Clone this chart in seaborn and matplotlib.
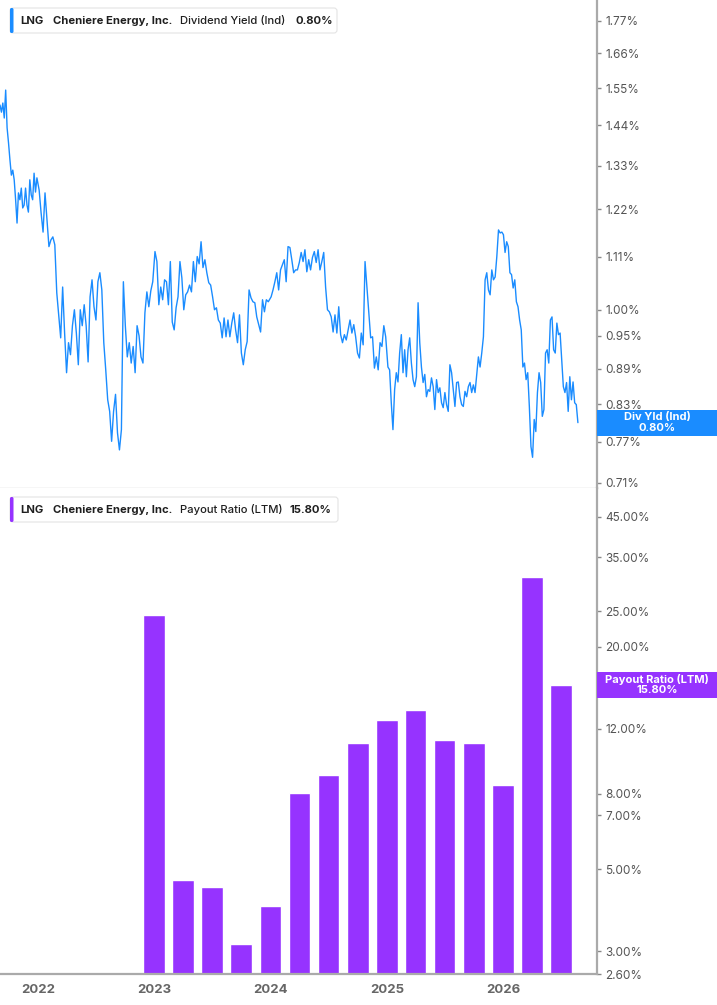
import numpy as np
import pandas as pd
import matplotlib
matplotlib.use("Agg")
import matplotlib.pyplot as plt
import matplotlib.dates as mdates
from matplotlib.patches import Rectangle, FancyBboxPatch
from matplotlib.transforms import IdentityTransform
from matplotlib.ticker import FixedLocator, FixedFormatter, NullLocator
import seaborn as sns

# Dividend yield (Ind), % - one list per calendar year
yld_2021 = [1.499, 1.478, 1.505, 1.461, 1.544, 1.433, 1.391, 1.345, 1.305, 1.318, 1.293, 1.243, 1.187, 1.260,
            1.243, 1.272, 1.223, 1.230, 1.272, 1.230, 1.213, 1.293, 1.255, 1.243, 1.310, 1.262, 1.298]
yld_2022 = [1.267, 1.211, 1.166, 1.260, 1.194, 1.133, 1.148, 1.155, 1.137, 1.034, 0.988, 0.946, 1.046, 0.955,
            0.883, 0.937, 0.915, 0.969, 1.000, 0.955, 0.897, 1.000, 0.969, 1.010, 0.969, 0.902, 1.026, 1.061,
            1.006, 0.980, 1.057, 1.076, 1.040, 0.937, 0.888, 0.837, 0.818, 0.771, 0.818, 0.846, 0.784, 0.758,
            0.789, 1.057, 0.969, 0.911, 0.937, 0.900, 0.930, 0.883, 0.969, 0.950, 0.911, 0.900, 0.994, 1.036,
            1.006, 1.038, 1.057]
yld_2023 = [1.122, 1.100, 1.010, 1.046, 1.020, 1.061, 1.057, 1.010, 1.100, 0.976, 0.961, 1.004, 1.026, 1.100,
            1.065, 1.000, 1.030, 1.036, 1.050, 1.036, 1.100, 1.057, 1.111, 1.095, 1.144, 1.087, 1.104, 1.076,
            1.055, 1.050, 1.026, 1.000, 1.004, 0.980, 0.974, 0.946, 0.984, 0.948, 0.980, 0.948, 0.974, 0.994,
            0.961, 0.937, 0.990, 0.918, 0.897, 0.924, 0.939, 1.040, 1.024, 1.016, 1.014, 0.986, 0.971, 0.957,
            1.020, 0.996, 1.020, 1.016]
yld_2024 = [1.026, 1.040, 1.057, 1.076, 1.040, 1.082, 1.093, 1.104, 1.057, 1.133, 1.131, 1.104, 1.076, 1.082,
            1.082, 1.098, 1.120, 1.100, 1.126, 1.078, 1.104, 1.082, 1.109, 1.122, 1.098, 1.126, 1.082, 1.100,
            1.120, 1.046, 1.000, 0.996, 0.986, 0.957, 0.990, 0.955, 1.006, 0.952, 0.937, 0.952, 0.942, 0.961,
            0.980, 0.955, 0.971, 0.948, 0.918, 0.909, 0.955, 0.933, 1.100, 1.046, 0.994, 0.946, 0.948, 0.891,
            0.911, 0.888, 0.937, 0.930, 0.969, 0.948]
yld_2025 = [0.893, 0.888, 0.832, 0.789, 0.854, 0.883, 0.867, 0.918, 0.952, 0.883, 0.924, 0.876, 0.924, 0.946,
            0.900, 0.871, 0.859, 0.876, 1.014, 0.937, 0.893, 0.866, 0.880, 0.842, 0.854, 0.851, 0.874, 0.859,
            0.821, 0.871, 0.849, 0.857, 0.832, 0.824, 0.849, 0.829, 0.818, 0.897, 0.883, 0.854, 0.826, 0.866,
            0.867, 0.842, 0.829, 0.826, 0.851, 0.842, 0.859, 0.866, 0.849, 0.862, 0.849, 0.880, 0.911, 0.893,
            0.918, 0.948, 1.061, 1.076, 1.040, 1.030, 1.082, 1.061, 1.067, 1.111, 1.171, 1.164, 1.166]
yld_2026 = [1.160, 1.120, 1.144, 1.133, 1.076, 1.072, 1.044, 1.061, 1.016, 1.006, 0.980, 0.961, 0.893, 0.900,
            0.871, 0.883, 0.826, 0.763, 0.747, 0.805, 0.786, 0.849, 0.883, 0.866, 0.810, 0.821, 0.918, 0.924,
            0.900, 0.980, 0.986, 0.924, 0.918, 0.974, 0.952, 0.955, 0.906, 0.859, 0.849, 0.866, 0.818, 0.876,
            0.837, 0.867, 0.832, 0.829, 0.800]
# first / last day covered by each yearly list
yld_spans = [("2021-09-03", "2021-12-28"), ("2022-01-04", "2022-12-27"), ("2023-01-03", "2023-12-25"),
             ("2024-01-03", "2024-12-28"), ("2025-01-04", "2025-12-28"), ("2026-01-02", "2026-08-24")]

# Payout ratio (LTM), %, quarterly bars
payout_quarters = ["2023-01-01", "2023-04-01", "2023-07-01", "2023-10-01",
                   "2024-01-01", "2024-04-01", "2024-07-01", "2024-10-01",
                   "2025-01-01", "2025-04-01", "2025-07-01", "2025-10-01",
                   "2026-01-01", "2026-04-01", "2026-07-01"]
payout_ratio = [24.4, 4.67, 4.47, 3.13, 3.97, 8.04, 8.99, 10.98, 12.67, 13.5, 11.19, 11.0, 8.45, 30.9, 15.8]

div_ticks = [1.77, 1.66, 1.55, 1.44, 1.33, 1.22, 1.11, 1.00, 0.95, 0.89, 0.83, 0.77, 0.71]
payout_ticks = [45, 35, 25, 20, 12, 8, 7, 5, 3, 2.6]
year_ticks = [2022, 2023, 2024, 2025, 2026]

last_yield = 0.80
last_payout = 15.80

BLUE = "#1a8cff"
PURPLE = "#9633ff"
W, H = 717, 1005

frames = []
for vals, (d0, d1) in zip([yld_2021, yld_2022, yld_2023, yld_2024, yld_2025, yld_2026], yld_spans):
    frames.append(pd.DataFrame({"date": pd.date_range(d0, d1, periods=len(vals)), "yield": vals}))
div = pd.concat(frames, ignore_index=True)

sns.set_style("white")
plt.rcParams["font.family"] = ["Inter", "DejaVu Sans"]

fig = plt.figure(figsize=(W / 100, H / 100), dpi=100)


def frac(x0, y0, x1, y1):
    return [x0 / W, 1 - y1 / H, (x1 - x0) / W, (y1 - y0) / H]


ax1 = fig.add_axes(frac(0, 0, 597, 488))
ax2 = fig.add_axes(frac(0, 488, 597, 974))

sns.lineplot(data=div, x="date", y="yield", ax=ax1, color=BLUE, linewidth=1.0)

xnum = mdates.date2num(pd.to_datetime(payout_quarters))
sns.barplot(x=xnum, y=payout_ratio, native_scale=True, width=0.76, color=PURPLE,
            saturation=1, orient="x", ax=ax2)

xlim = mdates.date2num(pd.to_datetime(["2021-09-03", "2026-10-23"]))
for ax in (ax1, ax2):
    ax.set_xlim(*xlim)
    ax.set_xlabel("")
    ax.set_ylabel("")

ax1.set_yscale("log")
ax1.set_ylim(0.703, 1.845)
ax2.set_yscale("log")
ax2.set_ylim(2.6, 53.9)

for ax, ticks in ((ax1, div_ticks), (ax2, payout_ticks)):
    ax.yaxis.set_major_locator(FixedLocator(ticks))
    ax.yaxis.set_major_formatter(FixedFormatter([f"{t:.2f}%" for t in ticks]))
    ax.yaxis.set_minor_locator(NullLocator())
    ax.yaxis.tick_right()
    ax.tick_params(axis="y", length=3, width=1, color="#888888", labelcolor="#555555",
                   labelsize=8.5, pad=3)
    ax.spines["left"].set_visible(False)
    ax.spines["top"].set_visible(False)
    ax.spines["right"].set_color("#aaaaaa")
    ax.spines["right"].set_linewidth(1.6)

ax1.tick_params(axis="x", bottom=False, labelbottom=False)
ax1.spines["bottom"].set_color("#d4d4d4")
ax1.spines["bottom"].set_linewidth(1.0)

ax2.set_xticks(mdates.date2num(pd.to_datetime([f"{y}-01-01" for y in year_ticks])),
               labels=[str(y) for y in year_ticks])
ax2.tick_params(axis="x", length=4, width=1, color="#999999", labelcolor="#666666",
                labelsize=9.5, pad=3)
for t in ax2.get_xticklabels():
    t.set_fontweight("bold")
ax2.spines["bottom"].set_color("#aaaaaa")
ax2.spines["bottom"].set_linewidth(1.6)


# value tags on the right axis
def value_tag(ax, value, text, color):
    xd = ax.transAxes.transform((1, 0))[0]
    yd = ax.transData.transform((xlim[0], value))[1]
    fig.add_artist(Rectangle((xd, yd - 13), W - xd, 26, transform=IdentityTransform(),
                             facecolor=color, edgecolor="none", zorder=5))
    fig.text(xd + (W - xd) / 2, yd, text, transform=IdentityTransform(), ha="center", va="center",
             color="white", fontsize=8, fontweight="bold", linespacing=1.05, zorder=6)


value_tag(ax1, last_yield, f"Div Yld (Ind)\n{last_yield:.2f}%", BLUE)
value_tag(ax2, last_payout, f"Payout Ratio (LTM)\n{last_payout:.2f}%", PURPLE)


# legend boxes top-left of each panel
def legend_box(y_top, width, pieces, color):
    yb = H - y_top - 25
    fig.add_artist(FancyBboxPatch((10, yb), width, 25, boxstyle="round,pad=0,rounding_size=3",
                                  transform=IdentityTransform(), facecolor="white",
                                  edgecolor="#e4e4e4", linewidth=0.8, zorder=5))
    fig.add_artist(FancyBboxPatch((10, yb), 3.5, 25, boxstyle="round,pad=0,rounding_size=1.5",
                                  transform=IdentityTransform(), facecolor=color,
                                  edgecolor="none", zorder=6))
    for x, s, w in pieces:
        fig.text(x, yb + 12.5, s, transform=IdentityTransform(), ha="left", va="center",
                 fontsize=8.1, fontweight=w, color="#1f1f1f", zorder=7)


legend_box(8, 327, [(20, "LNG", "bold"), (53, "Cheniere Energy, Inc.", "bold"),
                    (180, "Dividend Yield (Ind)", "medium"), (295, f"{last_yield:.2f}%", "bold")], BLUE)
legend_box(497, 328, [(20, "LNG", "bold"), (53, "Cheniere Energy, Inc.", "bold"),
                      (180, "Payout Ratio (LTM)", "medium"), (290, f"{last_payout:.2f}%", "bold")], PURPLE)

fig.savefig("out.png", dpi=100)
